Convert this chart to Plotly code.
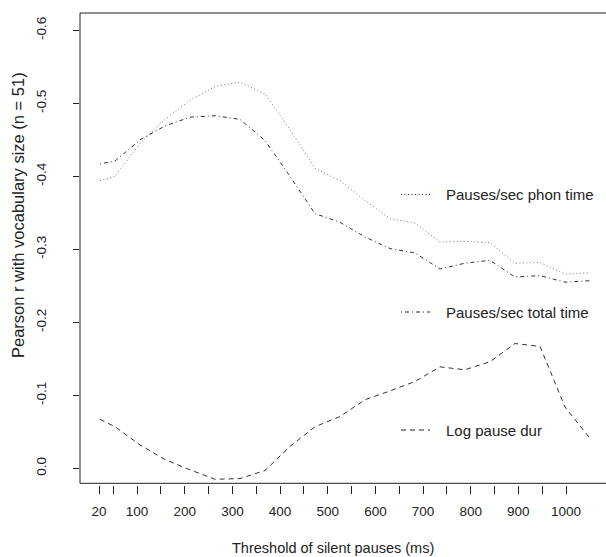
import plotly.graph_objects as go

thresholds = [20, 50, 100, 150, 200, 250, 300, 350, 400, 450, 500,
              550, 600, 650, 700, 750, 800, 850, 900, 950, 1000]
phon_time = [-0.394, -0.400, -0.445, -0.478, -0.504, -0.523, -0.529, -0.513, -0.464, -0.411, -0.394,
             -0.367, -0.342, -0.336, -0.310, -0.311, -0.309, -0.281, -0.282, -0.266, -0.268]
total_time = [-0.417, -0.421, -0.450, -0.469, -0.481, -0.483, -0.478, -0.449, -0.400, -0.349, -0.337,
              -0.317, -0.301, -0.295, -0.273, -0.281, -0.285, -0.262, -0.264, -0.255, -0.257]
log_dur = [-0.067, -0.057, -0.032, -0.012, 0.002, 0.015, 0.014, 0.003, -0.030, -0.057, -0.071,
           -0.094, -0.106, -0.119, -0.139, -0.135, -0.146, -0.171, -0.167, -0.084, -0.041]

x_tick_vals = [20, 50, 100, 150, 200, 250, 300, 350, 400, 450, 500,
               550, 600, 650, 700, 750, 800, 850, 900, 950, 1000]
x_tick_text = ["20", "", "100", "", "200", "", "300", "", "400", "", "500",
               "", "600", "", "700", "", "800", "", "900", "", "1000"]
y_tick_vals = [0.0, -0.1, -0.2, -0.3, -0.4, -0.5, -0.6]
y_tick_text = ["0.0", "-0.1", "-0.2", "-0.3", "-0.4", "-0.5", "-0.6"]

legend_labels = ["Pauses/sec phon time", "Pauses/sec total time", "Log pause dur"]

FONT = "Liberation Sans, Arial, sans-serif"
INK = "#222222"

dot = "1px,2.5px"
dashdot = "1px,3px,4px,3px"
dash = "5px,4px"

fig = go.Figure()
fig.add_trace(go.Scatter(x=thresholds, y=phon_time, mode="lines",
                         line=dict(color="#777777", width=1, dash=dot), showlegend=False))
fig.add_trace(go.Scatter(x=thresholds, y=total_time, mode="lines",
                         line=dict(color="#333333", width=1, dash=dashdot), showlegend=False))
fig.add_trace(go.Scatter(x=thresholds, y=log_dur, mode="lines",
                         line=dict(color="#333333", width=1, dash=dash), showlegend=False))
# empty carrier so the tick axis (x2) gets drawn
fig.add_trace(go.Scatter(x=x_tick_vals, y=[None] * len(x_tick_vals), xaxis="x2",
                         mode="lines", showlegend=False, hoverinfo="skip"))

# geometry (pixels)
L, T, B = 80, 13, 72
W, H = 606, 557
pw, ph = W - L, H - T - B
def px(xp):
    return (xp - L) / pw
def py(yp):
    return (H - B - yp) / ph

fig.update_layout(
    width=W, height=H,
    margin=dict(l=L, r=0, t=T, b=B),
    paper_bgcolor="white", plot_bgcolor="white",
    font=dict(family=FONT, color=INK, size=13),
    xaxis=dict(range=[-20, 1032], showgrid=False, zeroline=False, showticklabels=False,
               ticks="", showline=False, anchor="free", position=0),
    xaxis2=dict(range=[-19.87, 1083.9], overlaying="x", anchor="free", position=0,
                side="bottom", showgrid=False, zeroline=False, showline=False,
                tickmode="array", tickvals=x_tick_vals, ticktext=x_tick_text,
                ticks="outside", ticklen=8, tickwidth=1, tickcolor=INK,
                tickfont=dict(size=13.5, family=FONT, color=INK), ticklabelstandoff=6),
    yaxis=dict(range=[0.0205, -0.6237], domain=[py(483.3), 1], showgrid=False, zeroline=False,
               showline=False, tickmode="array", tickvals=y_tick_vals, ticktext=y_tick_text,
               ticks="outside", ticklen=6, tickwidth=1, tickcolor=INK, tickangle=-90,
               tickfont=dict(size=13.5, family=FONT, color=INK), ticklabelstandoff=22),
)

# box (right edge lies beyond the visible window)
box = dict(type="line", xref="x domain", yref="y domain", line=dict(color=INK, width=1))
fig.add_shape(**box, x0=0, x1=0, y0=0, y1=1)
fig.add_shape(**box, x0=0, x1=1.05, y0=1, y1=1)
fig.add_shape(**box, x0=0, x1=1.05, y0=0, y1=0)

# legend
leg_y = [194.5, 312, 430]
leg_dash = [dot, dashdot, dash]
for lab, yy, dsh in zip(legend_labels, leg_y, leg_dash):
    fig.add_shape(type="line", xref="paper", yref="paper", x0=px(401), x1=px(430),
                  y0=py(yy), y1=py(yy), line=dict(color=INK, width=1, dash=dsh))
    fig.add_annotation(text=lab, xref="paper", yref="paper", x=px(444), y=py(yy),
                       xanchor="left", yanchor="middle", showarrow=False,
                       font=dict(size=15, family=FONT, color=INK))

fig.add_annotation(text="Threshold of silent pauses (ms)", xref="paper", yref="paper",
                   x=px(332.5), y=py(548), xanchor="center", yanchor="middle",
                   showarrow=False, font=dict(size=14.5, family=FONT, color=INK))
fig.add_annotation(text="Pearson r with vocabulary size (n = 51)", xref="paper", yref="paper",
                   x=px(18), y=py(215), xanchor="center", yanchor="middle", textangle=-90,
                   showarrow=False, font=dict(size=16.5, family=FONT, color=INK))

fig.write_html("out.html", config={"displayModeBar": False},
               post_script="document.body.style.margin='0';")
